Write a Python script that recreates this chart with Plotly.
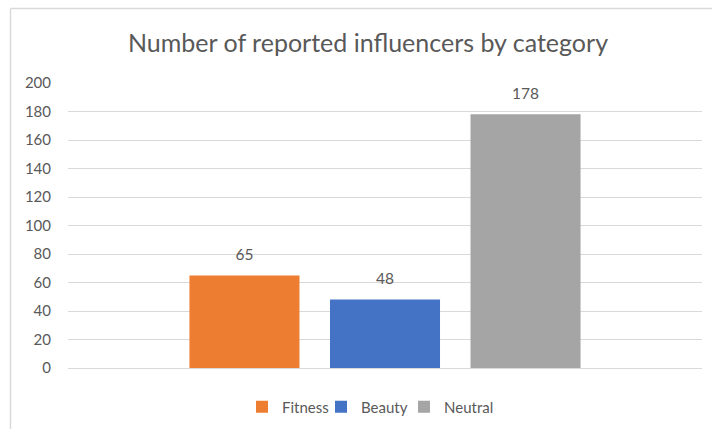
import plotly.graph_objects as go

categories = ["Fitness", "Beauty", "Neutral"]
values = [65, 48, 178]
colors = ["#ED7D31", "#4472C4", "#A5A5A5"]
y_ticks = [0, 20, 40, 60, 80, 100, 120, 140, 160, 180, 200]
title = "Number of reported influencers by category"

FONT = "Lato, Open Sans, sans-serif"
GREY = "#595959"

legend_ids = ["legend", "legend2", "legend3"]
legend_px = [242, 321, 404]

fig = go.Figure()
for name, v, c, lg in zip(categories, values, colors, legend_ids):
    fig.add_trace(go.Bar(
        x=[""], y=[v], name=name, marker=dict(color=c, line=dict(width=0)),
        text=[f"<span style='font-size:15.5px'>{v}</span><br> "], textposition="outside",
        textfont=dict(family=FONT, size=8, color=GREY),
        cliponaxis=False, legend=lg,
    ))

W, H = 712, 429
L, R, T, B = 68, 10, 83, 61
pw, ph = W - L - R, H - T - B

def px2x(px):
    return (px - L) / pw

def py2y(py):
    return (H - B - py) / ph

fig.add_shape(type="line", xref="paper", yref="paper",
              x0=px2x(10.5), x1=px2x(10.5), y0=py2y(8.5), y1=py2y(440),
              line=dict(color="#D9D9D9", width=1.5))
fig.add_shape(type="line", xref="paper", yref="paper",
              x0=px2x(10.5), x1=px2x(720), y0=py2y(8.5), y1=py2y(8.5),
              line=dict(color="#D9D9D9", width=1.5))

legend_common = dict(orientation="h", xanchor="left", yanchor="middle", y=py2y(407),
                     font=dict(family=FONT, size=15, color=GREY), bgcolor="rgba(0,0,0,0)")

fig.update_layout(
    width=W, height=H,
    margin=dict(l=L, r=R, t=T, b=B, pad=0, autoexpand=False),
    paper_bgcolor="white", plot_bgcolor="white",
    barmode="group", bargap=0.335, bargroupgap=0.217,
    title=dict(text=title, x=368 / W, xanchor="center", y=1 - 43 / H, yanchor="middle",
               font=dict(family=FONT, size=25, color=GREY)),
    showlegend=True,
    xaxis=dict(showticklabels=False, showgrid=False, zeroline=False, showline=False),
    yaxis=dict(range=[0, 200], tickvals=y_ticks, showgrid=True, gridcolor="#D9D9D9",
               gridwidth=1, zeroline=True, zerolinecolor="#D9D9D9", zerolinewidth=1,
               showline=False, ticks="", ticklabelstandoff=16,
               tickfont=dict(family=FONT, size=15, color=GREY)),
)
for lg, lx in zip(legend_ids, legend_px):
    fig.update_layout({lg: dict(legend_common, x=px2x(lx))})

fig.write_html("out.html")
